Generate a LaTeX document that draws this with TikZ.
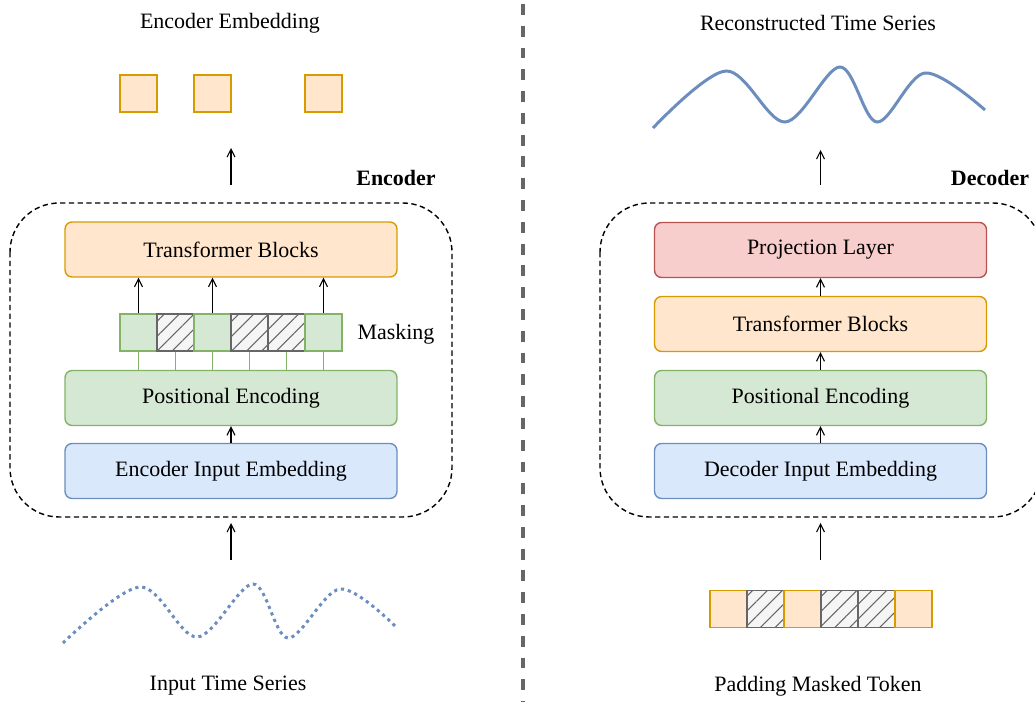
\documentclass[tikz,border=0pt]{standalone}
\usepackage{fontspec}
\setmainfont{Liberation Serif}
\usetikzlibrary{arrows.meta,patterns.meta}
\definecolor{orangefill}{HTML}{FFE6CC}
\definecolor{orangeline}{HTML}{D79B00}
\definecolor{greenfill}{HTML}{D5E8D4}
\definecolor{greenline}{HTML}{82B366}
\definecolor{bluefill}{HTML}{DAE8FC}
\definecolor{blueline}{HTML}{6C8EBF}
\definecolor{redfill}{HTML}{F8CECC}
\definecolor{redline}{HTML}{B85450}
\definecolor{maskfill}{HTML}{F5F5F5}
\definecolor{maskline}{HTML}{666666}
\tikzset{
  layer/.style={draw, rounded corners=4pt, line width=0.8pt, minimum width=6.64cm, minimum height=1.1cm, inner sep=0pt},
  cell/.style={draw, line width=0.9pt, minimum size=0.74cm, inner sep=0pt},
  tokcell/.style={cell, fill=orangefill, draw=orangeline},
  viscell/.style={cell, fill=greenfill, draw=greenline},
  hidcell/.style={cell, draw=maskline, preaction={fill=maskfill}, pattern={Lines[angle=45,distance=6pt,line width=0.6pt]}, pattern color=maskline},
  uparrow/.style={-{Straight Barb[length=4.5pt,width=4.5pt]}, line width=0.6pt},
}
\begin{document}
\begin{tikzpicture}[x=0.02cm, y=-0.02cm, font=\fontsize{12.5}{15}\selectfont]
			%%%%% START %%%%%
			\useasboundingbox (0, 0) rectangle (1035, 702);
			
			% divider
			\draw[line width=2pt, color=maskline, dash pattern=on 6.2pt off 6.2pt] (523, 4) -- (523, 702);
			
			%%%%% ENCODER %%%%%
			\node (encTitle) at (230, 23) {Encoder Embedding};
			\node[tokcell] (emb1) at (138.5, 93.5) {};
			\node[tokcell] (emb2) at (212.5, 93.5) {};
			\node[tokcell] (emb3) at (323.5, 93.5) {};
			\coordinate (encOutLow) at (231, 185);
			\coordinate (encOutHigh) at (231, 148);
			\draw[uparrow] (encOutLow) -- (encOutHigh);
			
			\node[font=\fontsize{12.5}{15}\selectfont\bfseries] (encLabel) at (396, 178) {Encoder};
			\draw[line width=0.8pt, dash pattern=on 3pt off 2pt, rounded corners=28pt] (10, 203) rectangle (452, 517);
			
			\node[layer, fill=orangefill, draw=orangeline] (encBlocks) at (231, 249.5) {Transformer Blocks};
			
			\node[viscell] (m1) at (138.5, 332.5) {};
			\node[hidcell] (m2) at (175.5, 332.5) {};
			\node[viscell] (m3) at (212.5, 332.5) {};
			\node[hidcell] (m4) at (249.5, 332.5) {};
			\node[hidcell] (m5) at (286.5, 332.5) {};
			\node[viscell] (m6) at (323.5, 332.5) {};
			\node (maskLabel) at (396, 334) {Masking};
			
			\node[layer, fill=greenfill, draw=greenline] (encPos) at (231, 398) {Positional Encoding};
			\node[layer, fill=bluefill, draw=blueline] (encInput) at (231, 471) {Encoder Input Embedding};
			
			\draw[greenline, line width=0.8pt] (m1.south) -- (m1.south |- encPos.north);
			\draw[greenline, line width=0.8pt] (m2.south) -- (m2.south |- encPos.north);
			\draw[greenline, line width=0.8pt] (m3.south) -- (m3.south |- encPos.north);
			\draw[greenline, line width=0.8pt] (m4.south) -- (m4.south |- encPos.north);
			\draw[greenline, line width=0.8pt] (m5.south) -- (m5.south |- encPos.north);
			\draw[greenline, line width=0.8pt] (m6.south) -- (m6.south |- encPos.north);
			
			\draw[uparrow] (m1.north) -- (m1.north |- encBlocks.south);
			\draw[uparrow] (m3.north) -- (m3.north |- encBlocks.south);
			\draw[uparrow] (m6.north) -- (m6.north |- encBlocks.south);
			\draw[uparrow] (encInput) -- (encPos);
			
			\coordinate (encInLow) at (231, 560);
			\coordinate (encInHigh) at (231, 523);
			\draw[uparrow] (encInLow) -- (encInHigh);
			
			\draw[blueline, line width=1.7pt, dash pattern=on 1.8pt off 2.2pt] plot[smooth, tension=0.55] coordinates {(63, 643) (140, 587) (197, 637) (253, 584) (288, 638) (340, 589) (395, 626)};
			\node (inLabel) at (228, 686) {Input Time Series};
			
			%%%%% DECODER %%%%%
			\node (decTitle) at (818, 23) {Reconstructed Time Series};
			\draw[blueline, line width=1.7pt] plot[smooth, tension=0.55] coordinates {(653, 128) (726, 71) (785, 122) (840, 67) (877, 122) (925, 73) (985, 110)};
			\coordinate (decOutLow) at (820.5, 185);
			\coordinate (decOutHigh) at (820.5, 150);
			\draw[uparrow] (decOutLow) -- (decOutHigh);
			
			\node[font=\fontsize{12.5}{15}\selectfont\bfseries] (decLabel) at (990, 178) {Decoder};
			\draw[line width=0.8pt, dash pattern=on 3pt off 2pt, rounded corners=28pt] (600, 203) rectangle (1042, 517);
			
			\node[layer, fill=redfill, draw=redline] (decProj) at (820.5, 250) {Projection Layer};
			\node[layer, fill=orangefill, draw=orangeline] (decBlocks) at (820.5, 324) {Transformer Blocks};
			\node[layer, fill=greenfill, draw=greenline] (decPos) at (820.5, 398) {Positional Encoding};
			\node[layer, fill=bluefill, draw=blueline] (decInput) at (820.5, 471) {Decoder Input Embedding};
			\draw[uparrow] (decInput) -- (decPos);
			\draw[uparrow] (decPos) -- (decBlocks);
			\draw[uparrow] (decBlocks) -- (decProj);
			
			\coordinate (decInLow) at (820.5, 560);
			\coordinate (decInHigh) at (820.5, 523);
			\draw[uparrow] (decInLow) -- (decInHigh);
			
			\node[tokcell] (p1) at (728.5, 609) {};
			\node[hidcell] (p2) at (765.5, 609) {};
			\node[tokcell] (p3) at (802.5, 609) {};
			\node[hidcell] (p4) at (839.5, 609) {};
			\node[hidcell] (p5) at (876.5, 609) {};
			\node[tokcell] (p6) at (913.5, 609) {};
			\node (padLabel) at (818, 686) {Padding Masked Token};
			
			%%%%% END %%%%%
\end{tikzpicture}
\end{document}
